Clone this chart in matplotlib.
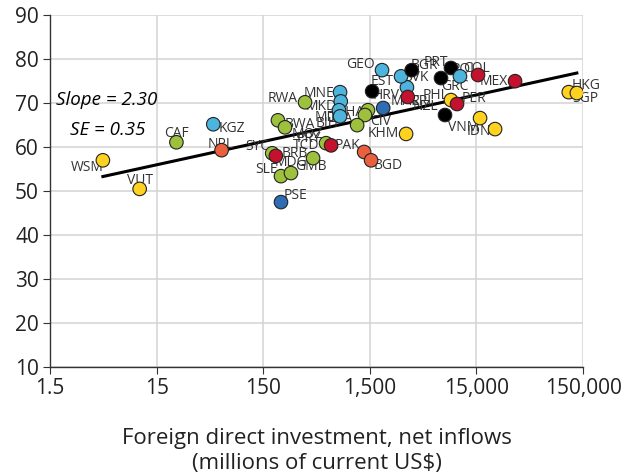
import numpy as np
import matplotlib
matplotlib.use("Agg")
import matplotlib.pyplot as plt

plt.rcParams['font.family'] = ['Open Sans', 'DejaVu Sans']

# country codes, FDI net inflows (millions US$), score, region
codes = ['WSM', 'VUT', 'CAF', 'KGZ', 'NPL', 'BWA', 'MOZ', 'RWA', 'SYC', 'BRB',
         'SLE', 'GMB', 'MDG', 'TCD', 'PRY', 'PAK', 'BGD', 'PSE', 'MNE', 'MKD',
         'MDA', 'BIH', 'GHA', 'CIV', 'TZA', 'MAR', 'GEO', 'EST', 'HRV', 'SVK',
         'BGR', 'CRI', 'KHM', 'PRT', 'GRC', 'POL', 'COL', 'MEX', 'PHL', 'PER',
         'NZL', 'VNM', 'IDN', 'HKG', 'SGP']
fdi = [4.7, 10.4, 23, 51, 61, 206, 240, 370, 182, 197,
       220, 273, 440, 582, 649, 1325, 1540, 220, 788, 800,
       770, 788, 1440, 1350, 1140, 2000, 1950, 1575, 3340, 2940,
       3700, 3400, 3280, 8640, 6970, 10500, 15500, 34500, 8640, 9850,
       7600, 16200, 22400, 110000, 131000]
score = [57.0, 50.5, 61.1, 65.2, 59.3, 66.1, 64.5, 70.2, 58.6, 58.0,
         53.4, 54.1, 57.5, 60.9, 60.4, 58.9, 57.0, 47.5, 72.5, 70.4,
         68.4, 67.0, 68.4, 67.3, 65.0, 68.9, 77.5, 72.7, 73.6, 76.1,
         77.5, 71.4, 63.0, 78.0, 75.7, 76.1, 76.4, 75.0, 70.7, 69.8,
         67.3, 66.6, 64.1, 72.5, 72.3]
region = ['EAP', 'EAP', 'SSA', 'ECA', 'SAR', 'SSA', 'SSA', 'SSA', 'SSA', 'LAC',
          'SSA', 'SSA', 'SSA', 'SSA', 'LAC', 'SAR', 'SAR', 'MNA', 'ECA', 'ECA',
          'ECA', 'ECA', 'SSA', 'SSA', 'SSA', 'MNA', 'ECA', 'HI', 'ECA', 'ECA',
          'HI', 'LAC', 'EAP', 'HI', 'HI', 'ECA', 'LAC', 'LAC', 'EAP', 'LAC',
          'HI', 'EAP', 'EAP', 'EAP', 'EAP']

slope = 2.30
intercept = 49.75
se = 0.35

colors = {'EAP': '#FFD21F', 'SSA': '#9DC13C', 'ECA': '#4DB4DD',
          'MNA': '#2E6CB4', 'LAC': '#C3112E', 'SAR': '#EA5F3D', 'HI': '#000000'}

# label offsets in points (dx, dy, ha)
offs = {
    'WSM': (-11, -5, 'center'), 'VUT': (0, 6, 'center'), 'CAF': (0, 6, 'center'),
    'KGZ': (4, -3, 'left'), 'NPL': (-1, 4, 'center'), 'BWA': (5, -3, 'left'),
    'MOZ': (5, -5, 'left'), 'RWA': (-5, 3, 'right'), 'SYC': (-2, 5, 'right'),
    'BRB': (4, 2, 'left'), 'SLE': (-2, 5, 'right'), 'GMB': (3, 5, 'left'),
    'MDG': (-4, -3, 'right'), 'TCD': (-5, -2, 'right'), 'PRY': (-7, 5, 'right'),
    'PAK': (-3, 5, 'right'), 'BGD': (2, -4, 'left'), 'PSE': (2, 5, 'left'),
    'MNE': (-4, -1, 'right'), 'MKD': (-3, -4, 'right'), 'MDA': (5, -5, 'right'),
    'BIH': (-1, -5, 'right'), 'GHA': (-3, -2, 'right'), 'CIV': (4, -5, 'left'),
    'TZA': (-3, 5, 'right'), 'MAR': (5, 5, 'left'), 'GEO': (-5, 4, 'right'),
    'EST': (-1, 7, 'left'), 'HRV': (-5, -6, 'right'), 'SVK': (2, -1, 'left'),
    'BGR': (-1, 3, 'left'), 'CRI': (2, -3, 'left'), 'KHM': (-5, 0, 'right'),
    'PRT': (-2, 4, 'right'), 'GRC': (0, -6, 'left'), 'POL': (-6, 5, 'left'),
    'COL': (-11, 5, 'left'), 'MEX': (-5, 0, 'right'), 'PHL': (-2, 3, 'right'),
    'PER': (3, 4, 'left'), 'NZL': (-5, 6, 'right'), 'VNM': (-12, -7, 'center'),
    'IDN': (-12, -2, 'center'), 'HKG': (2, 5, 'left'), 'SGP': (-3, -4, 'left'),
}

fig = plt.figure(figsize=(6.21, 4.75), dpi=100)
ax = fig.add_axes([0.0805, 0.2274, 0.8585, 0.7406])

ax.set_xscale('log')
ax.set_xlim(1.5, 150000)
ax.set_ylim(10, 90)

ax.grid(True, color='#d3d3d3', linewidth=1.1, zorder=0)
ax.set_axisbelow(True)
for s in ['top', 'right']:
    ax.spines[s].set_visible(False)
for s in ['left', 'bottom']:
    ax.spines[s].set_color('#333333')
    ax.spines[s].set_linewidth(1.0)

xt = [1.5, 15, 150, 1500, 15000, 150000]
ax.set_xticks(xt)
ax.set_xticklabels(['1.5', '15', '150', '1,500', '15,000', '150,000'])
ax.xaxis.set_minor_locator(matplotlib.ticker.NullLocator())
ax.set_yticks(np.arange(10, 91, 10))
ax.tick_params(axis='both', labelsize=15, length=5, color='#333333',
               labelcolor='#222222', pad=3)

xs = np.array(fdi)
ys = np.array(score)
cs = [colors[r] for r in region]

# regression line over data range
lx = np.logspace(np.log10(xs.min()), np.log10(xs.max()), 50)
ax.plot(lx, intercept + slope * np.log(lx), color='black', lw=2.2, zorder=2)

ax.scatter(xs, ys, s=95, c=cs, edgecolors='#222222', linewidths=0.8, zorder=3)

for c, x, y in zip(codes, xs, ys):
    dx, dy, ha = offs[c]
    ax.annotate(c, (x, y), xytext=(dx, dy), textcoords='offset points',
                ha=ha, va='center', fontsize=10, color='#333333', zorder=2.5)

ax.text(0.011, 0.758, 'Slope = 2.30', transform=ax.transAxes, fontsize=13.5,
        style='italic', va='center', ha='left')
ax.text(0.0375, 0.673, 'SE = %.2f' % se, transform=ax.transAxes, fontsize=13.5,
        style='italic', va='center', ha='left')

ax.set_xlabel('Foreign direct investment, net inflows\n(millions of current US$)',
              fontsize=16, labelpad=21, color='#222222', linespacing=1.25)

fig.savefig('out.png', dpi=100)
